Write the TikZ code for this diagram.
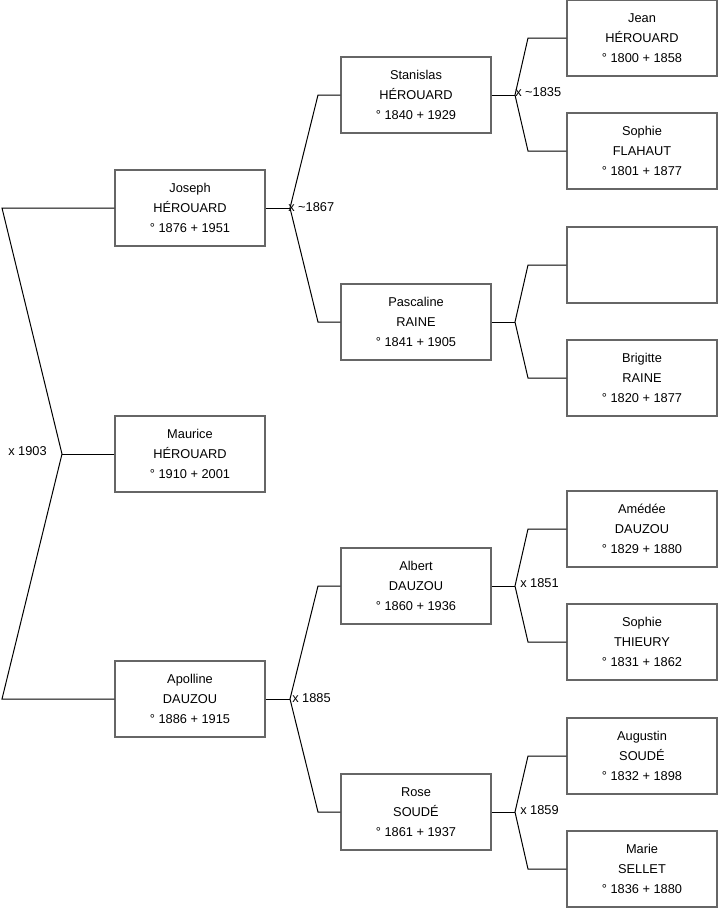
\documentclass[tikz,border=0pt]{standalone}
\usepackage{fontspec}
\setmainfont{Liberation Sans}
\usetikzlibrary{positioning}

\tikzset{
  person/.style={draw=black!60, line width=1pt, fill=white,
    minimum width=112.5pt, minimum height=57pt, inner sep=0pt,
    align=center, font=\fontsize{9.6}{15}\selectfont},
  link/.style={black, line width=0.75pt},
  union/.style={inner sep=0pt, font=\fontsize{9.6}{11}\selectfont}
}

\begin{document}
\begin{tikzpicture}[x=0.75pt, y=-0.75pt]
    \useasboundingbox (0,0) rectangle (719,908);

    % Generation 0
    \node[person] (maurice)   at (190,454) {Maurice\\HÉROUARD\\° 1910 + 2001};

    % Generation 1
    \node[person] (joseph)    at (190,208) {Joseph\\HÉROUARD\\° 1876 + 1951};
    \node[person] (apolline)  at (190,699) {Apolline\\DAUZOU\\° 1886 + 1915};

    % Generation 2
    \node[person] (stanislas) at (416,95)  {Stanislas\\HÉROUARD\\° 1840 + 1929};
    \node[person] (pascaline) at (416,322) {Pascaline\\RAINE\\° 1841 + 1905};
    \node[person] (albert)    at (416,586) {Albert\\DAUZOU\\° 1860 + 1936};
    \node[person] (rose)      at (416,812) {Rose\\SOUDÉ\\° 1861 + 1937};

    % Generation 3
    \node[person] (jean)      at (642,38)  {Jean\\HÉROUARD\\° 1800 + 1858};
    \node[person] (sophief)   at (642,151) {Sophie\\FLAHAUT\\° 1801 + 1877};
    \node[person] (unknown)   at (642,265) {};
    \node[person] (brigitte)  at (642,378) {Brigitte\\RAINE\\° 1820 + 1877};
    \node[person] (amedee)    at (642,529) {Amédée\\DAUZOU\\° 1829 + 1880};
    \node[person] (sophiet)   at (642,642) {Sophie\\THIEURY\\° 1831 + 1862};
    \node[person] (augustin)  at (642,756) {Augustin\\SOUDÉ\\° 1832 + 1898};
    \node[person] (marie)     at (642,869) {Marie\\SELLET\\° 1836 + 1880};

    % Fork points
    \coordinate (fmaurice)   at (62,454);
    \coordinate (fjoseph)    at (290,208);
    \coordinate (fapolline)  at (290,699);
    \coordinate (fstanislas) at (515,95);
    \coordinate (fpascaline) at (515,322);
    \coordinate (falbert)    at (515,586);
    \coordinate (frose)      at (515,812);

    % Parents of each child
    \draw[link] (maurice.west) -- (fmaurice);
    \draw[link] (joseph.west) -- (2,208) -- (fmaurice) -- (2,699) -- (apolline.west);
    \foreach \child/\dad/\mum in {joseph/stanislas/pascaline, apolline/albert/rose}{
        \draw[link] (\child.east) -- (f\child);
        \draw[link] (\dad.west) -- (\dad.west -| 318,0) -- (f\child)
                    -- (\mum.west -| 318,0) -- (\mum.west);
    }
    \foreach \child/\dad/\mum in {stanislas/jean/sophief, pascaline/unknown/brigitte,
                                  albert/amedee/sophiet, rose/augustin/marie}{
        \draw[link] (\child.east) -- (f\child);
        \draw[link] (\dad.west) -- (\dad.west -| 528,0) -- (f\child)
                    -- (\mum.west -| 528,0) -- (\mum.west);
    }

    % Marriages
    \node[union, anchor=east] (m1903) at (47,451)  {x 1903};
    \node[union, anchor=west] (m1867) at (288,207) {x \textasciitilde1867};
    \node[union, anchor=west] (m1885) at (292,698) {x 1885};
    \node[union, anchor=west] (m1835) at (515,92)  {x \textasciitilde1835};
    \node[union, anchor=west] (m1851) at (520,583) {x 1851};
    \node[union, anchor=west] (m1859) at (520,810) {x 1859};
\end{tikzpicture}
\end{document}
